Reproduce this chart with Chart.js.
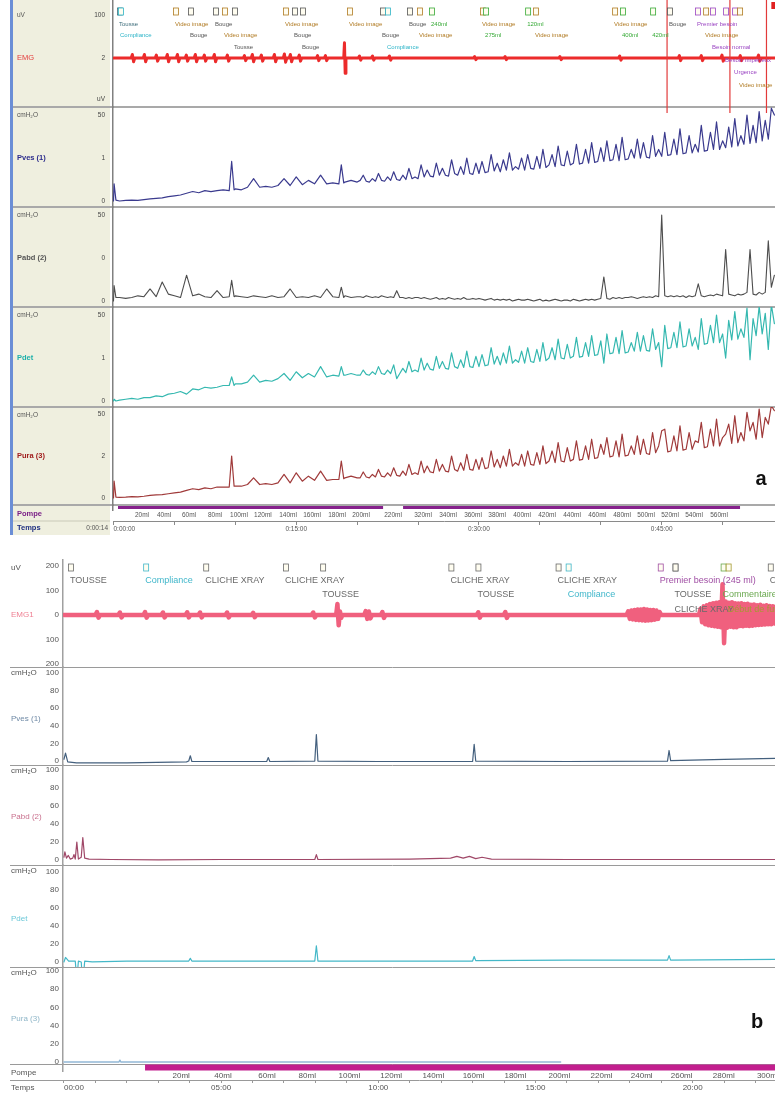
<!DOCTYPE html>
<html>
<head>
<meta charset="utf-8">
<script src="https://cdn.jsdelivr.net/npm/chart.js@4.4.1/dist/chart.umd.min.js"></script>
<style>
  body { margin: 0; background: #fff; width: 775px; height: 1093px; overflow: hidden; position: relative; }
  #wa { position: absolute; left: 0; top: 0; }
  #wb { position: absolute; left: 0; top: 558px; }
</style>
</head>
<body>
<div id="wa"><canvas id="chartA" width="775" height="540"></canvas></div>
<div id="wb"><canvas id="chartB" width="775" height="535"></canvas></div>
<script>
const FONT = '"Liberation Sans", Arial, sans-serif';

// ---------- panel a : sample times (min) and pressures (cmH2O) ----------
const aTime = [0,0.05,0.2,0.5, 1,1.5,2,2.5,3,3.5,4,4.5,5,5.5, 6,6.5,7,7.5,8,8.5,9,9.5, 9.7,9.9,
  10,10.5,11,11.5,12,12.5,13,13.5,14,14.5, 15,15.5,16,16.5,17,17.5,18,18.5, 18.7,18.9, 19,19.5,20,
  20.25,20.5,20.75,21, 21.25,21.5,21.75,22, 22.25,22.5,22.75,23, 23.25,23.5,23.75,24, 24.25,24.5,24.75,25,
  25.25,25.5,25.75,26, 26.25,26.5,26.75,27, 27.25,27.5,27.75,28, 28.25,28.5,28.75,29, 29.25,29.5,29.75,30,
  30.25,30.5,30.75,31, 31.25,31.5,31.75,32, 32.25,32.5,32.75,33, 33.25,33.5,33.75,34, 34.25,34.5,34.75,35,
  35.25,35.5,35.75,36, 36.25,36.5,36.75,37, 37.25,37.5,37.75,38, 38.25,38.5,38.75,39, 39.25,39.5,39.75,40,
  40.25,40.5,40.75,41, 41.25,41.5,41.75,42, 42.25,42.5,42.75,43, 43.25,43.5,43.75,44, 44.25,44.5,44.75,45,
  45.25,45.5,45.75,46, 46.25,46.5,46.75,47, 47.25,47.5,47.75,48, 48.25,48.5,48.75,49, 49.25,49.5,49.75,50,
  50.25,50.5,50.75,51, 51.25,51.5,51.75,52, 52.25,52.5,52.75,53, 53.25,53.5,53.75,54, 54.25];

const aPves = [0,10,0.5,0, 0.3,0.5,0.4,0.8,1.2,1.5,1.8,2.5,3,3.5, 4.5,5.5,4.8,6,5.5,6,6.5,6, 23,6.5,
  7,6.5,8,13,8,8.5,8,9,13,9, 14,9.5,12,10,15,10,10.5,10, 21,10.5, 11,12,11,
  12,15,11.5,11, 13,11.5,16,12, 11.5,14,12,17, 12.5,12,15,12.5, 19,13,14,13,
  21,14,18,14.5, 14,22,15,19, 15,14.5,24,16, 15,20,15.5,25, 16,15.5,22,16,
  23,16.5,17,27, 17.5,22,17,24, 18,28,18,20, 18.5,25,18,27, 19,18.5,26,19,
  30,19.5,21,27, 20,32,21,20.5, 29,21,22,33, 21.5,22,30,22, 34,22.5,23,31,
  23,35,23.5,24, 33,23.5,37,24, 24.5,30,25,36, 25,34,25.5,25, 38,26,30,26,
  40,26.5,27,36, 27,42,27.5,28, 38,28,33,28.5, 44,29,29.5,40, 30,46,30,35,
  31,43,31.5,48, 32,38,33,50, 33.5,44,34,52, 35,47,36,54, 50];

const aPabd = [0,9,2,2, 1.5,2,3,2.5,7,2.5,11,4,3,2, 15,3,4,2.5,2,6,2,2.5, 12,2.5,
  3,2.5,2,3,2.5,2,3,2,2.5,7, 2,2.5,2,3,2,7,2.5,2, 8,2, 3,2,2.5,
  2.5,2,3,2.5, 2,2.5,2,3, 2.5,2,2.5,2, 6,2,2,1.5, 2,1.5,2,2,
  1.5,2,1.5,1, 1.5,2,1,1.5, 1,2,1.5,1, 1.5,1,2,1, 1,1.5,1,1.5,
  1,0.5,1,1.5, 0.5,1,0.5,1, 0.5,1,0,0.5, 1,0.5,0.5,1, 0.5,0,0.5,1,
  0,0.5,0,0.5, 1,0.5,0,0.5, 0.5,0,1,0.5, 0,0.5,1,0.5, 1,0.5,1,1.5,
  14,1.5,1,2, 1.5,2,1.5,2, 2,2.5,2,1.5, 2,2.5,2,2.5, 2,3,2.5,50,
  3,2.5,3,2.5, 3,2.5,3,2, 3,2.5,3,10, 3,2.5,3,3.5, 3,4,3.5,3,
  30,4,3.5,3, 4,3.5,4,5, 30,4,3.5,5, 4,5,35,8, 15];

const aPdet = [0,1,0,0.5, 1,1.5,1,2,2,3,2.5,4,4.5,5.5, 4,7,6.5,8,7.5,8,9,9, 14,9,
  10,10,11,15,11,12,11.5,13,16,12, 17,13.5,16,14,20,14,15,14.5, 20,15, 15,16,15,
  15,18,15.5,15, 17,15.5,20,16, 15.5,18,16,21, 13,16,19,16.5, 23,17,18,17,
  25,18,22,18.5, 18,26,19,23, 19,18.5,28,20, 19,24,19.5,29, 20,19.5,26,20,
  27,20.5,21,31, 21.5,26,21,28, 22,32,22,24, 22.5,29,22,31, 23,22.5,30,23,
  34,23.5,25,31, 24,36,25,24.5, 33,25,26,37, 25.5,26,34,26, 38,26.5,27,35,
  22,39,27.5,28, 37,27.5,41,28, 28.5,34,29,40, 29,38,29.5,29, 42,30,34,20,
  44,30.5,31,40, 31,46,31.5,32, 42,32,37,30, 48,33,33.5,44, 34,50,34,39,
  25,47,35.5,52, 36,42,37,54, 24,48,38,55, 39,51,30,56, 45];

const aPura = [0,10,0.5,0.3, 0.5,0.8,0.6,1,1.5,1.8,2,2.5,3,3.5, 4.5,5.5,5,6,5.5,6.5,6.5,6.5, 25,7,
  7,7,8,12,8,8.5,8,9,14,9, 15,10,13,10.5,16,10.5,11,11, 22,11.5, 12,13,12,
  12,15.5,12.5,12, 14,12.5,17,13, 12.5,15,13,18, 13.5,13,16,13.5, 20,14,15,14,
  22,15,19,15.5, 15,23,16,20, 16,15.5,25,17, 16,21,16.5,26, 17,16.5,23,17,
  24,17.5,18,28, 18.5,23,18,25, 19,29,19,21, 19.5,26,19,28, 20,19.5,27,20,
  31,20.5,22,28, 21,33,22,21.5, 30,22,23,34, 22.5,23,31,23, 35,23.5,24,32,
  26,36,24.5,25, 34,24.5,38,25, 25.5,31,26,37, 26,35,26.5,26, 39,27,31,40,
  41,27.5,28,37, 28,43,28.5,29, 39,29,34,33, 45,30,30.5,41, 31,47,31,36,
  38,44,32.5,49, 33,39,34,51, 40,45,35,53, 36,48,44,55, 52];

// EMG (uV) as [time, value]
const aEmg = [[0,0],
  [1.45,0],[1.55,7],[1.65,-7],[1.75,0], [2.44,0],[2.54,7],[2.64,-7],[2.74,0],
  [3.42,0],[3.52,6],[3.62,-6],[3.72,0], [4.32,0],[4.42,7],[4.52,-7],[4.62,0],
  [5.15,0],[5.25,7],[5.35,-7],[5.45,0], [5.88,0],[5.98,6],[6.08,-6],[6.18,0],
  [6.62,0],[6.72,7],[6.82,-7],[6.92,0], [7.36,0],[7.46,6],[7.56,-6],[7.66,0],
  [8.18,0],[8.28,7],[8.38,-7],[8.48,0], [9.25,0],[9.35,6],[9.45,-6],[9.55,0],
  [10.65,0],[10.75,5],[10.85,-5],[10.95,0], [11.3,0],[11.4,7],[11.5,-7],[11.6,0],
  [12.04,0],[12.14,6],[12.24,-6],[12.34,0], [13.11,0],[13.21,7],[13.31,-7],[13.41,0],
  [13.93,0],[14.03,8],[14.13,-8],[14.23,0], [14.42,0],[14.52,7],[14.62,-7],[14.72,0],
  [15.15,0],[15.25,6],[15.35,-6],[15.45,0], [16.65,0],[16.75,5],[16.85,-5],[16.95,0],
  [17.3,0],[17.4,5],[17.5,-5],[17.6,0], [18.9,0],[18.96,30],[19.02,-30],[19.08,0],
  [20.09,0],[20.19,4],[20.29,-4],[20.39,0], [21.16,0],[21.26,4],[21.36,-4],[21.46,0],
  [22.55,0],[22.65,4],[22.75,-4],[22.85,0], [29.55,0],[29.65,3],[29.75,-3],[29.85,0],
  [32.05,0],[32.15,3],[32.25,-3],[32.35,0], [36.55,0],[36.65,3],[36.75,-3],[36.85,0],
  [41.45,0],[41.55,4],[41.65,-4],[41.75,0], [46.35,0],[46.45,5],[46.55,-5],[46.65,0],
  [48.15,0],[48.25,5],[48.35,-5],[48.45,0], [49.85,0],[49.95,6],[50.05,-6],[50.15,0],
  [51.35,0],[51.45,5],[51.55,-5],[51.65,0], [52.85,0],[52.95,6],[53.05,-6],[53.15,0],
  [54.3,0]];

const aPompe = [[0.37,1],[22.13,1],[22.14,null],[23.77,1],[51.43,1]];

const aMlTimes = [2.34,4.15,6.2,8.33,10.3,12.27,14.33,16.3,18.35,20.32,22.95,25.41,27.46,29.51,31.49,33.54,35.59,37.64,39.7,41.75,43.72,45.69,47.66,49.71];
const aMlLabels = ['20ml','40ml','60ml','80ml','100ml','120ml','140ml','160ml','180ml','200ml','220ml','320ml','340ml','360ml','380ml','400ml','420ml','440ml','460ml','480ml','500ml','520ml','540ml','560ml'];
const aTimeTicks = [0,5,10,15,20,25,30,35,40,45,50];
const aTimeLabels = ['0:00:00','','','0:15:00','','','0:30:00','','','0:45:00',''];

const aEventTimes = [0.29,0.37,4.89,6.12,8.17,8.91,9.73,13.92,14.66,15.31,19.17,21.88,22.29,24.09,24.92,25.9,30.09,30.34,33.79,34.44,40.93,41.58,44.05,45.44,47.74,48.4,48.97,50.04,50.78,51.19];
const aEventLabels = ['Tousse','Compliance','Video image','Bouge','Bouge','Video image','Tousse','Video image','Bouge','Bouge','Video image','Bouge','Compliance','Bouge','Video image','240ml','Video image','275ml','120ml','Video image','Video image','400ml','420ml','Bouge','Premier besoin','Video image','Besoin normal','Besoin impérieux','Urgence','Video image'];
const aEventRows = [1,2,1,2,1,2,3,1,2,3,1,2,3,1,2,1,1,2,1,2,1,2,2,1,1,2,3,4,5,6];
const aEventKinds = ['tousse','compliance','video','bouge','bouge','video','bouge','video','bouge','bouge','video','bouge','compliance','bouge','video','vol','video','vol','vol','video','video','vol','vol','bouge','besoin','video','besoin','besoin','besoin','video'];
const aEventLines = [45.44,50.6,53.6];

// ---------- panel b ----------
const bEmg = [[0,0],[1.0,0],[1.05,12],[1.1,-11],[1.15,0],[1.73,0],[1.78,10],[1.83,-10],[1.88,0],
  [2.53,0],[2.58,12],[2.63,-11],[2.68,0],[3.1,0],[3.15,10],[3.2,-10],[3.25,0],
  [3.87,0],[3.92,11],[3.97,-10],[4.02,0],[4.28,0],[4.33,10],[4.38,-10],[4.43,0],
  [5.14,0],[5.19,10],[5.24,-10],[5.29,0],[5.97,0],[6.02,9],[6.07,-9],[6.12,0],
  [7.88,0],[7.93,10],[7.98,-10],[8.03,0],[8.66,0],[8.7,45],[8.74,-42],[8.78,14],[8.82,-12],[8.86,0],
  [9.55,0],[9.6,16],[9.65,-16],[9.7,14],[9.75,-14],[9.8,0],[10.08,0],[10.13,12],[10.18,-12],[10.23,0],
  [13.13,0],[13.18,11],[13.23,-11],[13.28,0],[13.99,0],[14.04,12],[14.09,-12],[14.14,0],
  [17.9,0],[17.95,15],[18.0,-16],[18.05,18],[18.1,-18],[18.15,20],[18.2,-20],[18.25,22],[18.3,-21],
  [18.35,22],[18.4,-22],[18.45,24],[18.5,-23],[18.55,22],[18.6,-22],[18.65,20],[18.7,-21],[18.75,20],
  [18.8,-19],[18.85,18],[18.9,-16],[18.95,12],[19.0,0],
  [20.2,0],[20.25,25],[20.3,-30],[20.35,35],[20.4,-38],[20.45,40],[20.5,-42],[20.55,45],[20.6,-44],
  [20.65,48],[20.7,-46],[20.75,50],[20.8,-48],[20.85,52],[20.9,-50],[20.95,125],[21.0,-115],[21.05,55],
  [21.1,-52],[21.15,50],[21.2,-48],[21.25,52],[21.3,-50],[21.35,48],[21.4,-50],[21.45,47],[21.5,-45],
  [21.55,48],[21.6,-46],[21.65,45],[21.7,-44],[21.75,46],[21.8,-45],[21.85,42],[21.9,-44],[21.95,43],
  [22.0,-42],[22.05,40],[22.1,-41],[22.15,42],[22.2,-40],[22.25,38],[22.3,-39],[22.35,40],[22.4,-38],
  [22.45,37],[22.5,-38],[22.55,36],[22.6,-35],[22.65,34]];

const bPves = [[0,2],[0.05,9],[0.12,-1],[0.4,-2],[2,-2],[3.9,-1],[3.97,0],[4.02,6],[4.07,-0.5],[6.45,-0.5],[6.5,4],[6.55,-0.5],
  [7.98,0],[8.03,30],[8.08,0],[10,-0.5],[13.0,-0.5],[13.05,19],[13.1,0],[16,-0.5],[19.2,0],[19.25,12],[19.3,0.5],[21,2],[22.7,3]];
const bPabd = [[0,3],[0.03,9],[0.08,2],[0.14,5],[0.2,1],[0.28,2],[0.32,6],[0.36,1],[0.41,20],[0.46,1],[0.55,3],[0.6,25],[0.66,2],
  [0.8,1],[1.5,0.5],[3,0],[5,0.5],[7.98,0.5],[8.03,6],[8.08,0.5],[11,1],[12.3,2],[12.5,4],[12.7,2],[12.9,4],[13.1,1.5],
  [13.3,3],[13.6,1],[16,0.5],[20,0.5],[22.7,0.5]];
const bPdet = [[0,0],[0.05,5],[0.15,1],[0.36,1],[0.41,-20],[0.46,1],[0.55,0],[0.6,-25],[0.66,1],[0.9,0],[2,1],[3.97,1],[4.02,4],
  [4.07,1],[7.98,1],[8.03,18],[8.08,1],[13.0,1],[13.05,6],[13.1,1.5],[16,2],[19.2,2],[19.25,7],[19.3,2],[22.7,3]];
const bPura = [[0,0],[1.75,0],[1.78,2],[1.81,0],[15.8,0]];
const bPompe = [[2.58,1],[22.7,1]];

const bMlTimes = [3.73,5.06,6.46,7.74,9.08,10.41,11.75,13.03,14.36,15.76,17.1,18.38,19.65,20.99,22.39];
const bMlLabels = ['20ml','40ml','60ml','80ml','100ml','120ml','140ml','160ml','180ml','200ml','220ml','240ml','260ml','280ml','300ml'];
const bTimeTicks = [0,1,2,3,4,5,6,7,8,9,10,11,12,13,14,15,16,17,18,19,20,21,22];
const bTimeLabels = ['00:00','','','','','05:00','','','','','10:00','','','','','15:00','','','','','20:00','',''];
const bPressTicks = [0,20,40,60,80,100];
const bPressLabels = ['0','20','40','60','80','100'];

const bEventTimes = [0.13,2.52,4.43,6.97,8.15,12.23,13.09,15.64,15.96,18.89,19.36,19.36,20.89,21.05,22.39];
const bEventLabels = ['TOUSSE','Compliance','CLICHE XRAY','CLICHE XRAY','TOUSSE','CLICHE XRAY','TOUSSE','CLICHE XRAY','Compliance','Premier besoin (245 ml)','TOUSSE','CLICHE XRAY','Commentaire','Début de fuite','CLICHE XRAY'];
const bEventRows = [1,1,1,1,2,1,2,1,2,1,2,3,2,3,1];
const bEventKinds = ['gray','cyan','gray','gray','gray','gray','gray','gray','cyan','purple','gray','gray','green','olive','gray'];

// ---------- helpers ----------
const pts = (ts, vs) => ts.map((t, i) => ({ x: t, y: vs[i] }));
const pairs = arr => arr.map(p => ({ x: p[0], y: p[1] }));
const trace = (data, yId, color, w, cap) => ({
  data, yAxisID: yId, xAxisID: 'x', borderColor: color, borderWidth: w,
  borderJoinStyle: 'round', borderCapStyle: cap || 'round',
  pointRadius: 0, fill: false, tension: 0, spanGaps: false
});

function chanAxis(o) {
  return {
    type: 'linear', position: 'left', stack: 'rec', stackWeight: o.h, weight: o.order,
    min: o.min, max: o.max,
    grid: { display: false, drawTicks: false },
    border: { display: true, color: o.axisColor, width: o.axisWidth },
    ticks: {
      display: !!o.text, autoSkip: false, padding: o.pad, color: o.tickColor,
      font: { family: FONT, size: o.fs },
      callback: (v, i) => (o.text ? o.text[i] : '')
    },
    afterBuildTicks: s => { s.ticks = (o.ticks || [0]).map(v => ({ value: v })); },
    afterFit: s => { s.width = o.w; s.paddingTop = 0; s.paddingBottom = 0; }
  };
}

function timeAxis(o) {
  return {
    type: 'linear', position: 'bottom', weight: 2, min: o.min, max: o.max,
    grid: { display: true, drawOnChartArea: false, drawTicks: true, tickLength: o.tl, color: o.color },
    border: { display: true, color: o.color, width: 1 },
    ticks: {
      autoSkip: false, maxRotation: 0, minRotation: 0, align: 'inner', padding: 0,
      color: '#555', font: { family: FONT, size: o.fs },
      callback: (v, i) => o.labels[i]
    },
    afterBuildTicks: s => { s.ticks = o.ticks.map(v => ({ value: v })); },
    afterFit: s => { s.height = o.h; s.paddingLeft = 0; s.paddingRight = 0; }
  };
}

function mlAxis(o) {
  return {
    type: 'linear', position: 'bottom', weight: 1, min: o.min, max: o.max,
    grid: { display: false, drawTicks: false },
    border: { display: false },
    ticks: {
      autoSkip: false, maxRotation: 0, minRotation: 0, padding: o.pad,
      color: '#555', font: { family: FONT, size: o.fs },
      callback: (v, i) => o.labels[i]
    },
    afterBuildTicks: s => { s.ticks = o.ticks.map(v => ({ value: v })); },
    afterFit: s => { s.height = o.h; s.paddingLeft = 0; s.paddingRight = 0; }
  };
}

function hline(c, x0, x1, y) { c.beginPath(); c.moveTo(x0, y); c.lineTo(x1, y); c.stroke(); }

function drawEvents(c, xs, times, labels, rows, kinds, rowY, colors, size, markY) {
  c.font = size + 'px ' + FONT;
  c.textBaseline = 'middle';
  c.textAlign = 'left';
  times.forEach((t, i) => {
    const x = xs.getPixelForValue(t);
    const col = colors[kinds[i]];
    c.strokeStyle = col; c.lineWidth = 0.8;
    c.fillStyle = '#fffdf0';
    c.fillRect(x + 0.5, markY, 5, 7);
    c.strokeRect(x + 0.5, markY, 5, 7);
    c.fillStyle = col;
    c.fillText(labels[i], x + 2, rowY[rows[i]]);
  });
}

// ---------- panel a ----------
const aChannels = [
  { id: 'yEmg', name: 'EMG', unit: 'uV', color: '#e43c3c', bold: false },
  { id: 'yPves', name: 'Pves (1)', unit: 'cmH₂O', color: '#2b2b8c', bold: true },
  { id: 'yPabd', name: 'Pabd (2)', unit: 'cmH₂O', color: '#555555', bold: true },
  { id: 'yPdet', name: 'Pdet', unit: 'cmH₂O', color: '#1fb0aa', bold: true },
  { id: 'yPura', name: 'Pura (3)', unit: 'cmH₂O', color: '#a01c1c', bold: true }
];
const aColors = { tousse: '#3c6c7a', compliance: '#2cb4c8', video: '#b07a22', bouge: '#555555', vol: '#35a935', besoin: '#9a44c2' };

const panelA = {
  id: 'panelA',
  beforeDraw(chart) {
    const c = chart.ctx, s = chart.scales;
    c.save();
    c.fillStyle = '#efefdf';
    c.fillRect(10, 0, 100, 535);
    c.fillStyle = '#6b8ed6';
    c.fillRect(10, 0, 3, 535);
    c.strokeStyle = '#a9a9a9'; c.lineWidth = 2;
    aChannels.forEach(ch => hline(c, 13, 775, s[ch.id].bottom));
    c.lineWidth = 1; c.strokeStyle = '#c9c9b8';
    hline(c, 13, 110, s.x.top);
    c.restore();
  },
  afterDraw(chart) {
    const c = chart.ctx, s = chart.scales;
    c.save();
    c.textBaseline = 'middle'; c.textAlign = 'left';
    aChannels.forEach((ch, i) => {
      const sc = s[ch.id];
      c.font = '6.5px ' + FONT; c.fillStyle = '#555';
      c.fillText(ch.unit, 17, i === 0 ? 15 : sc.top + 8);
      c.font = (ch.bold ? 'bold ' : '') + '7.5px ' + FONT; c.fillStyle = ch.color;
      c.fillText(ch.name, 17, i === 0 ? sc.getPixelForValue(0) : sc.getPixelForValue(25));
    });
    c.font = 'bold 7.5px ' + FONT;
    c.fillStyle = '#7a1f86';
    c.fillText('Pompe', 17, (s.yPompe.top + s.xml.bottom) / 2 + 1);
    c.fillStyle = '#1f2f80';
    c.fillText('Temps', 17, (s.x.top + s.x.bottom) / 2);
    c.font = '6.5px ' + FONT; c.fillStyle = '#555'; c.textAlign = 'right';
    c.fillText('0:00:14', 108, (s.x.top + s.x.bottom) / 2);
    // event lines on EMG
    c.strokeStyle = '#e23a3a'; c.lineWidth = 1.2;
    aEventLines.forEach(t => {
      const x = s.x.getPixelForValue(t);
      c.beginPath(); c.moveTo(x, s.yEmg.top); c.lineTo(x, s.yEmg.bottom + 6); c.stroke();
    });
    c.fillStyle = '#e02020';
    c.fillRect(s.x.getPixelForValue(54.0), 2, 6, 7);
    drawEvents(c, s.x, aEventTimes, aEventLabels, aEventRows, aEventKinds,
      [13, 24, 35, 47, 60, 72, 85], aColors, 6, 8);
    c.font = 'bold 20px ' + FONT; c.fillStyle = '#111'; c.textAlign = 'center';
    c.fillText('a', 761, 479);
    c.restore();
  }
};

new Chart(document.getElementById('chartA'), {
  type: 'line',
  data: {
    datasets: [
      trace(pairs(aEmg), 'yEmg', '#ec2b2b', 3),
      trace(pts(aTime, aPves), 'yPves', '#3a3a8e', 1.2),
      trace(pts(aTime, aPabd), 'yPabd', '#4d4d4d', 1.1),
      trace(pts(aTime, aPdet), 'yPdet', '#35b8b0', 1.2),
      trace(pts(aTime, aPura), 'yPura', '#a03a3a', 1.2),
      trace(pairs(aPompe), 'yPompe', '#86228c', 3, 'butt')
    ]
  },
  options: {
    responsive: false, animation: false,
    layout: { padding: { left: 10, right: 0, top: 0, bottom: 5 }, autoPadding: false },
    plugins: { legend: { display: false }, tooltip: { enabled: false } },
    scales: {
      x: timeAxis({ min: -0.04, max: 54.3, ticks: aTimeTicks, labels: aTimeLabels, tl: 4, fs: 6.5, h: 14, color: '#8a8a8a' }),
      xml: mlAxis({ min: -0.04, max: 54.3, ticks: aMlTimes, labels: aMlLabels, fs: 6.5, h: 11, pad: 1 }),
      yEmg: chanAxis({ order: 6, h: 107, min: -96, max: 114, ticks: [-80, 0, 85], text: ['uV', '2', '100'], w: 103, pad: 8, fs: 6.5, tickColor: '#444', axisColor: '#808080', axisWidth: 1.5 }),
      yPves: chanAxis({ order: 5, h: 100, min: -3.5, max: 54.7, ticks: [0, 25, 50], text: ['0', '1', '50'], w: 103, pad: 8, fs: 6.5, tickColor: '#444', axisColor: '#808080', axisWidth: 1.5 }),
      yPabd: chanAxis({ order: 4, h: 100, min: -3.5, max: 54.7, ticks: [0, 25, 50], text: ['0', '0', '50'], w: 103, pad: 8, fs: 6.5, tickColor: '#444', axisColor: '#808080', axisWidth: 1.5 }),
      yPdet: chanAxis({ order: 3, h: 100, min: -3.5, max: 54.7, ticks: [0, 25, 50], text: ['0', '1', '50'], w: 103, pad: 8, fs: 6.5, tickColor: '#444', axisColor: '#808080', axisWidth: 1.5 }),
      yPura: chanAxis({ order: 2, h: 98, min: -4.2, max: 54.2, ticks: [0, 25, 50], text: ['0', '2', '50'], w: 103, pad: 8, fs: 6.5, tickColor: '#444', axisColor: '#808080', axisWidth: 1.5 }),
      yPompe: chanAxis({ order: 1, h: 5, min: 0, max: 2, w: 103, pad: 8, fs: 6.5, tickColor: '#444', axisColor: '#808080', axisWidth: 1.5 })
    }
  },
  plugins: [panelA]
});

// ---------- panel b ----------
const bChannels = [
  { id: 'yEmg', name: 'EMG1', unit: 'uV', color: '#ef7f92' },
  { id: 'yPves', name: 'Pves (1)', unit: 'cmH₂O', color: '#6f8aa6' },
  { id: 'yPabd', name: 'Pabd (2)', unit: 'cmH₂O', color: '#c9718e' },
  { id: 'yPdet', name: 'Pdet', unit: 'cmH₂O', color: '#6cc8d8' },
  { id: 'yPura', name: 'Pura (3)', unit: 'cmH₂O', color: '#8fb6c8' }
];
const bColors = { gray: '#6a6a6a', cyan: '#3fb6ca', purple: '#a04fa4', green: '#6aa84f', olive: '#a49a32' };

const panelB = {
  id: 'panelB',
  beforeDraw(chart) {
    const c = chart.ctx, s = chart.scales;
    c.save();
    c.strokeStyle = '#9a9a9a'; c.lineWidth = 1;
    bChannels.forEach(ch => hline(c, 10, 775, s[ch.id].bottom + 0.5));
    hline(c, 10, 63, s.x.top + 0.5);
    c.restore();
  },
  afterDraw(chart) {
    const c = chart.ctx, s = chart.scales;
    c.save();
    c.textBaseline = 'middle'; c.textAlign = 'left';
    bChannels.forEach((ch, i) => {
      const sc = s[ch.id];
      c.font = '8px ' + FONT; c.fillStyle = '#555';
      c.fillText(ch.unit, 11, sc.top + (i === 0 ? 8 : 6));
      c.fillStyle = ch.color;
      c.fillText(ch.name, 11, i === 0 ? sc.getPixelForValue(0) : sc.getPixelForValue(48));
    });
    c.fillStyle = '#555';
    c.fillText('Pompe', 11, (s.yPompe.top + s.xml.bottom) / 2 + 1);
    c.fillText('Temps', 11, (s.x.top + s.x.bottom) / 2 + 1);
    drawEvents(c, s.x, bEventTimes, bEventLabels, bEventRows, bEventKinds,
      [9, 23, 37, 52], bColors, 9, 6);
    c.font = 'bold 20px ' + FONT; c.fillStyle = '#111'; c.textAlign = 'center';
    c.fillText('b', 757, 464);
    c.restore();
  }
};

new Chart(document.getElementById('chartB'), {
  type: 'line',
  data: {
    datasets: [
      trace(pairs(bEmg), 'yEmg', '#f0607e', 4.5),
      trace(pairs(bPves), 'yPves', '#44607e', 1.2),
      trace(pairs(bPabd), 'yPabd', '#a04868', 1.2),
      trace(pairs(bPdet), 'yPdet', '#44b8c8', 1.2),
      trace(pairs(bPompe), 'yPompe', '#c21e8e', 6, 'butt'),
      trace(pairs(bPura), 'yPura', '#93b8d6', 1.5)
    ]
  },
  options: {
    responsive: false, animation: false,
    layout: { padding: { left: 10, right: 0, top: 2, bottom: 0 }, autoPadding: false },
    plugins: { legend: { display: false }, tooltip: { enabled: false } },
    scales: {
      x: timeAxis({ min: -0.03, max: 22.62, ticks: bTimeTicks, labels: bTimeLabels, tl: 3, fs: 8, h: 13, color: '#999' }),
      xml: mlAxis({ min: -0.03, max: 22.62, ticks: bMlTimes, labels: bMlLabels, fs: 8, h: 9, pad: 0 }),
      yEmg: chanAxis({ order: 6, h: 107, min: -212, max: 224, ticks: [-200, -100, 0, 100, 200], text: ['200', '100', '0', '100', '200'], w: 53, pad: 4, fs: 8, tickColor: '#555', axisColor: '#a0a0a0', axisWidth: 1.5 }),
      yPves: chanAxis({ order: 5, h: 98, min: -4.5, max: 106.8, ticks: bPressTicks, text: bPressLabels, w: 53, pad: 4, fs: 8, tickColor: '#555', axisColor: '#a0a0a0', axisWidth: 1.5 }),
      yPabd: chanAxis({ order: 4, h: 100, min: -5.6, max: 105.6, ticks: bPressTicks, text: bPressLabels, w: 53, pad: 4, fs: 8, tickColor: '#555', axisColor: '#a0a0a0', axisWidth: 1.5 }),
      yPdet: chanAxis({ order: 3, h: 102, min: -5.6, max: 107.8, ticks: bPressTicks, text: bPressLabels, w: 53, pad: 4, fs: 8, tickColor: '#555', axisColor: '#a0a0a0', axisWidth: 1.5 }),
      yPura: chanAxis({ order: 2, h: 97, min: -2.2, max: 104.4, ticks: bPressTicks, text: bPressLabels, w: 53, pad: 4, fs: 8, tickColor: '#555', axisColor: '#a0a0a0', axisWidth: 1.5 }),
      yPompe: chanAxis({ order: 1, h: 7, min: 0, max: 2, w: 53, pad: 4, fs: 8, tickColor: '#555', axisColor: '#a0a0a0', axisWidth: 1.5 })
    }
  },
  plugins: [panelB]
});
</script>
</body>
</html>
